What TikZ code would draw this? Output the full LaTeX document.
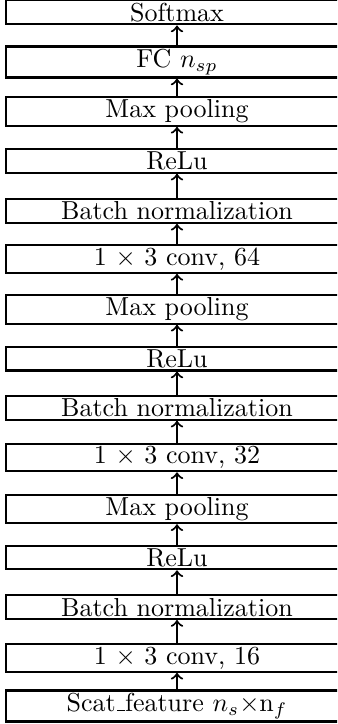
\documentclass[tikz,border=0pt]{standalone}
\usepackage{amsmath}
\usepackage{amssymb}
\usepackage{tikz}
\newcommand{\lowbar}{\leavevmode\kern.06em\vbox{\hrule width.3em}}

\begin{document}
\begin{tikzpicture}[x=0.3846pt, y=-0.3846pt,
  layer/.style={draw, thick, minimum width=131.8pt, inner xsep=1pt, inner ysep=1pt},
  flow/.style={->, thick}]
  \useasboundingbox (0,0) rectangle (337,724);
  \clip (0,0) rectangle (337,724);
  \node[layer] (softmax) at (177,12.4) {Softmax};
  \node[layer] (fc) at (177,62) {FC $n_{sp}$};
  \node[layer] (pool3) at (177,111.5) {Max pooling};
  \node[layer] (relu3) at (177,160.9) {ReLu};
  \node[layer] (bn3) at (177,211) {Batch normalization};
  \node[layer] (conv3) at (177,258.9) {1 $\times$ 3 conv, 64};
  \node[layer] (pool2) at (177,309.4) {Max pooling};
  \node[layer] (relu2) at (177,358.7) {ReLu};
  \node[layer] (bn2) at (177,407.9) {Batch normalization};
  \node[layer] (conv2) at (177,457.5) {1 $\times$ 3 conv, 32};
  \node[layer] (pool1) at (177,508.9) {Max pooling};
  \node[layer] (relu1) at (177,557.5) {ReLu};
  \node[layer] (bn1) at (177,607.2) {Batch normalization};
  \node[layer] (conv1) at (177,658) {1 $\times$ 3 conv, 16};
  \node[layer] (input) at (177,706) {Scat\lowbar feature $n_s\times$n$_f$};
  \draw[flow] (input) -- (conv1);
  \draw[flow] (conv1) -- (bn1);
  \draw[flow] (bn1) -- (relu1);
  \draw[flow] (relu1) -- (pool1);
  \draw[flow] (pool1) -- (conv2);
  \draw[flow] (conv2) -- (bn2);
  \draw[flow] (bn2) -- (relu2);
  \draw[flow] (relu2) -- (pool2);
  \draw[flow] (pool2) -- (conv3);
  \draw[flow] (conv3) -- (bn3);
  \draw[flow] (bn3) -- (relu3);
  \draw[flow] (relu3) -- (pool3);
  \draw[flow] (pool3) -- (fc);
  \draw[flow] (fc) -- (softmax);
\end{tikzpicture}
\end{document}
